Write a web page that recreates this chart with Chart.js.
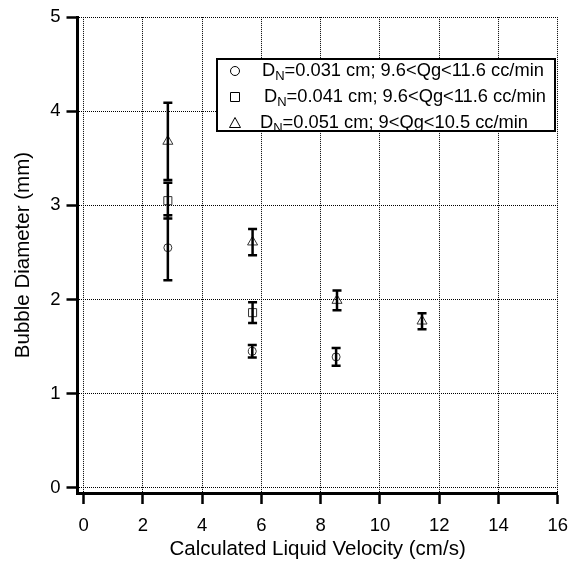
<!DOCTYPE html>
<html>
<head>
<meta charset="utf-8">
<script src="https://cdn.jsdelivr.net/npm/chart.js@4.4.0/dist/chart.umd.min.js"></script>
<style>
  body { margin: 0; background: #fff; }
  #wrap { position: relative; width: 579px; height: 564px; }
</style>
</head>
<body>
<div id="wrap"><canvas id="chart"></canvas></div>
<script>
// nozzle D_N = 0.031 cm
const velA = [2.84, 5.69, 8.52]
const diamA = [2.55, 1.45, 1.39]
const errA = [0.345, 0.067, 0.095]
// nozzle D_N = 0.041 cm
const velB = [2.84, 5.70]
const diamB = [3.05, 1.86]
const errB = [0.19, 0.11]
// nozzle D_N = 0.051 cm
const velC = [2.84, 5.70, 8.55, 11.42]
const diamC = [3.68, 2.61, 1.99, 1.77]
const errC = [0.41, 0.14, 0.105, 0.085]

const legendMain = ["D", "D", "D"]
const legendSub = ["N", "N", "N"]
const legendRest = [
    "=0.031 cm; 9.6<Qg<11.6 cc/min",
    "=0.041 cm; 9.6<Qg<11.6 cc/min",
    "=0.051 cm; 9<Qg<10.5 cc/min"
]
const xTicks = [0, 2, 4, 6, 8, 10, 12, 14, 16]
const yTicks = [0, 1, 2, 3, 4, 5]

const FONT = "'Liberation Sans', Arial, Helvetica, sans-serif"
Chart.defaults.font.family = FONT
Chart.defaults.color = "#000"

const toPoints = (xs, ys) => xs.map((x, i) => ({x: x, y: ys[i]}))

// vertical error bars, drawn through the library's y scale
const errorBars = {
    id: "errorBars",
    afterDatasetsDraw(chart) {
        const ctx = chart.ctx
        const yScale = chart.scales.y
        chart.data.datasets.forEach((ds, i) => {
            const meta = chart.getDatasetMeta(i)
            meta.data.forEach((pt, j) => {
                const top = yScale.getPixelForValue(ds.data[j].y + ds.errors[j])
                const bot = yScale.getPixelForValue(ds.data[j].y - ds.errors[j])
                ctx.save()
                ctx.strokeStyle = "#000"
                ctx.lineWidth = 2.5
                ctx.beginPath()
                ctx.moveTo(pt.x, top)
                ctx.lineTo(pt.x, bot)
                ctx.moveTo(pt.x - 4.5, top)
                ctx.lineTo(pt.x + 4.5, top)
                ctx.moveTo(pt.x - 4.5, bot)
                ctx.lineTo(pt.x + 4.5, bot)
                ctx.stroke()
                ctx.restore()
            })
        })
    }
}

// boxed legend with subscript N
const boxLegend = {
    id: "boxLegend",
    afterDraw(chart) {
        const ctx = chart.ctx
        const bx = 217, by = 59, bw = 338, bh = 72
        ctx.save()
        ctx.fillStyle = "#fff"
        ctx.fillRect(bx, by, bw, bh)
        ctx.strokeStyle = "#000"
        ctx.lineWidth = 2
        ctx.strokeRect(bx, by, bw, bh)
        const rowY = [71, 97, 123]
        const textX = [262, 264, 260]
        chart.data.datasets.forEach((ds, i) => {
            const y = rowY[i]
            const mx = 235
            ctx.strokeStyle = "#000"
            ctx.lineWidth = 1
            ctx.beginPath()
            if (ds.pointStyle === "circle") {
                ctx.arc(mx, y, 4.5, 0, Math.PI * 2)
            } else if (ds.pointStyle === "rect") {
                ctx.rect(mx - 4.5, y - 4.5, 9, 9)
            } else {
                ctx.moveTo(mx, y - 5.5)
                ctx.lineTo(mx + 5.5, y + 4.5)
                ctx.lineTo(mx - 5.5, y + 4.5)
                ctx.closePath()
            }
            ctx.stroke()
            ctx.fillStyle = "#000"
            ctx.textBaseline = "middle"
            ctx.textAlign = "left"
            let x = textX[i]
            ctx.font = "18.3px " + FONT
            ctx.fillText(legendMain[i], x, y)
            x += ctx.measureText(legendMain[i]).width
            ctx.font = "13px " + FONT
            ctx.fillText(legendSub[i], x, y + 5)
            x += ctx.measureText(legendSub[i]).width
            ctx.font = "18.3px " + FONT
            ctx.fillText(legendRest[i], x, y)
        })
        ctx.restore()
    }
}

const axisCommon = {
    grid: {
        color: "#000",
        lineWidth: 1,
        tickLength: 11,
        tickColor: "#000",
        tickWidth: 2.5,
        tickBorderDash: []
    },
    border: {display: true, color: "#000", width: 3, dash: [1, 1]},
    ticks: {font: {size: 18.5}, color: "#000", maxRotation: 0, autoSkip: false}
}

const ctx = document.getElementById("chart").getContext("2d")
new Chart(ctx, {
    type: "scatter",
    data: {
        datasets: [
            {
                label: "D_N=0.031 cm",
                data: toPoints(velA, diamA),
                errors: errA,
                pointStyle: "circle",
                pointRadius: 4,
                borderColor: "#333",
                borderWidth: 1,
                backgroundColor: "rgba(0,0,0,0)"
            },
            {
                label: "D_N=0.041 cm",
                data: toPoints(velB, diamB),
                errors: errB,
                pointStyle: "rect",
                pointRadius: 5.7,
                borderColor: "#333",
                borderWidth: 1,
                backgroundColor: "rgba(0,0,0,0)"
            },
            {
                label: "D_N=0.051 cm",
                data: toPoints(velC, diamC),
                errors: errC,
                pointStyle: "triangle",
                pointRadius: 5.8,
                borderColor: "#333",
                borderWidth: 1,
                backgroundColor: "rgba(0,0,0,0)"
            }
        ]
    },
    options: {
        responsive: true,
        maintainAspectRatio: false,
        animation: false,
        layout: {padding: {left: 0, top: 14, right: 21.3, bottom: 0}},
        plugins: {legend: {display: false}, tooltip: {enabled: false}},
        scales: {
            x: {
                ...axisCommon,
                ticks: {...axisCommon.ticks, padding: 11},
                type: "linear",
                position: "bottom",
                min: -0.21,
                max: 16,
                afterBuildTicks: s => { s.ticks = xTicks.map(v => ({value: v})) },
                afterFit: s => { s.height = 71 },
                title: {
                    display: true,
                    text: "Calculated Liquid Velocity (cm/s)",
                    font: {size: 20.5},
                    color: "#000",
                    padding: {top: 0, bottom: 2}
                }
            },
            y: {
                ...axisCommon,
                ticks: {...axisCommon.ticks, padding: 6},
                type: "linear",
                position: "left",
                min: -0.056,
                max: 5,
                afterBuildTicks: s => { s.ticks = yTicks.map(v => ({value: v})) },
                afterFit: s => { s.width = 77.5 },
                title: {
                    display: true,
                    text: "Bubble Diameter (mm)",
                    font: {size: 20.5},
                    color: "#000",
                    padding: {top: 11, bottom: 0}
                }
            }
        }
    },
    plugins: [errorBars, boxLegend]
})
</script>
</body>
</html>
